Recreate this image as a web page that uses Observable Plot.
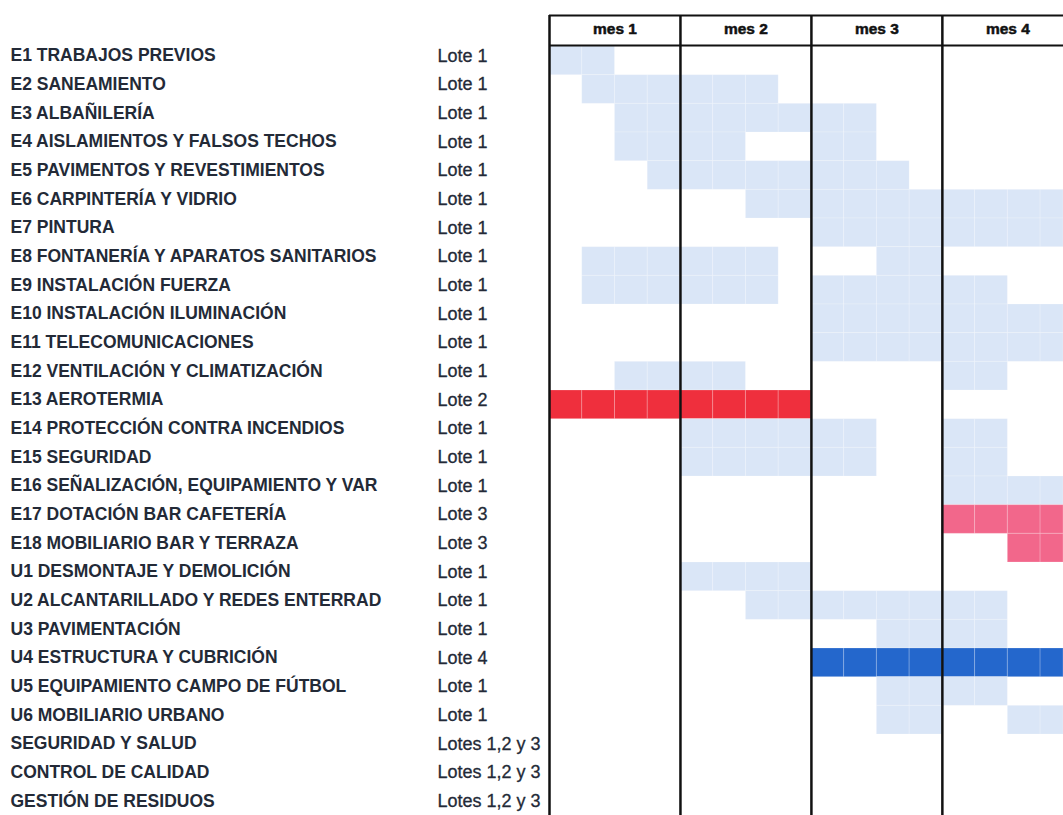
<!DOCTYPE html>
<html>
<head>
<meta charset="utf-8">
<script src="https://cdn.jsdelivr.net/npm/d3@7"></script>
<script src="https://cdn.jsdelivr.net/npm/@observablehq/plot@0.6"></script>
<style>
  body { margin: 0; background: #fff; overflow: hidden; }
</style>
</head>
<body>
<div id="chart"></div>
<script>
// ---- data ----
const tasks = [
  "E1 TRABAJOS PREVIOS",
  "E2 SANEAMIENTO",
  "E3 ALBAÑILERÍA",
  "E4 AISLAMIENTOS Y FALSOS TECHOS",
  "E5 PAVIMENTOS Y REVESTIMIENTOS",
  "E6 CARPINTERÍA Y VIDRIO",
  "E7 PINTURA",
  "E8 FONTANERÍA Y APARATOS SANITARIOS",
  "E9 INSTALACIÓN FUERZA",
  "E10 INSTALACIÓN ILUMINACIÓN",
  "E11 TELECOMUNICACIONES",
  "E12 VENTILACIÓN Y CLIMATIZACIÓN",
  "E13 AEROTERMIA",
  "E14 PROTECCIÓN CONTRA INCENDIOS",
  "E15 SEGURIDAD",
  "E16 SEÑALIZACIÓN, EQUIPAMIENTO Y VAR",
  "E17 DOTACIÓN BAR CAFETERÍA",
  "E18 MOBILIARIO BAR Y TERRAZA",
  "U1 DESMONTAJE Y DEMOLICIÓN",
  "U2 ALCANTARILLADO Y REDES ENTERRAD",
  "U3 PAVIMENTACIÓN",
  "U4 ESTRUCTURA Y CUBRICIÓN",
  "U5 EQUIPAMIENTO CAMPO DE FÚTBOL",
  "U6 MOBILIARIO URBANO",
  "SEGURIDAD Y SALUD",
  "CONTROL DE CALIDAD",
  "GESTIÓN DE RESIDUOS"
];
const lotes = [
  "Lote 1","Lote 1","Lote 1","Lote 1","Lote 1","Lote 1","Lote 1","Lote 1","Lote 1",
  "Lote 1","Lote 1","Lote 1","Lote 2","Lote 1","Lote 1","Lote 1","Lote 3","Lote 3",
  "Lote 1","Lote 1","Lote 1","Lote 4","Lote 1","Lote 1",
  "Lotes 1,2 y 3","Lotes 1,2 y 3","Lotes 1,2 y 3"
];
const months = ["mes 1", "mes 2", "mes 3", "mes 4"];
const monthStartWeek = [0, 4, 8, 12];
const weeksPerMonth = 4;
// [task, start week, end week]
const bars = [
  ["E1 TRABAJOS PREVIOS", 0, 2],
  ["E2 SANEAMIENTO", 1, 7],
  ["E3 ALBAÑILERÍA", 2, 10],
  ["E4 AISLAMIENTOS Y FALSOS TECHOS", 2, 6],
  ["E4 AISLAMIENTOS Y FALSOS TECHOS", 8, 10],
  ["E5 PAVIMENTOS Y REVESTIMIENTOS", 3, 11],
  ["E6 CARPINTERÍA Y VIDRIO", 6, 16],
  ["E7 PINTURA", 8, 16],
  ["E8 FONTANERÍA Y APARATOS SANITARIOS", 1, 7],
  ["E8 FONTANERÍA Y APARATOS SANITARIOS", 10, 12],
  ["E9 INSTALACIÓN FUERZA", 1, 7],
  ["E9 INSTALACIÓN FUERZA", 8, 14],
  ["E10 INSTALACIÓN ILUMINACIÓN", 8, 16],
  ["E11 TELECOMUNICACIONES", 8, 16],
  ["E12 VENTILACIÓN Y CLIMATIZACIÓN", 2, 6],
  ["E12 VENTILACIÓN Y CLIMATIZACIÓN", 12, 14],
  ["E13 AEROTERMIA", 0, 8],
  ["E14 PROTECCIÓN CONTRA INCENDIOS", 4, 10],
  ["E14 PROTECCIÓN CONTRA INCENDIOS", 12, 14],
  ["E15 SEGURIDAD", 4, 10],
  ["E15 SEGURIDAD", 12, 14],
  ["E16 SEÑALIZACIÓN, EQUIPAMIENTO Y VAR", 12, 16],
  ["E17 DOTACIÓN BAR CAFETERÍA", 12, 16],
  ["E18 MOBILIARIO BAR Y TERRAZA", 14, 16],
  ["U1 DESMONTAJE Y DEMOLICIÓN", 4, 8],
  ["U2 ALCANTARILLADO Y REDES ENTERRAD", 6, 14],
  ["U3 PAVIMENTACIÓN", 10, 14],
  ["U4 ESTRUCTURA Y CUBRICIÓN", 8, 16],
  ["U5 EQUIPAMIENTO CAMPO DE FÚTBOL", 10, 14],
  ["U6 MOBILIARIO URBANO", 10, 12],
  ["U6 MOBILIARIO URBANO", 14, 16]
];
const loteNames = ["Lote 1", "Lote 2", "Lote 3", "Lote 4", "Lotes 1,2 y 3"];

// ---- derived tables ----
const loteOf = new Map(tasks.map((t, i) => [t, lotes[i]]));
const cells = bars.flatMap(([task, s, e]) =>
  d3.range(s, e).map(w => ({task, w0: w, w1: w + 1, lote: loteOf.get(task)}))
);
const rows = tasks.map((t, i) => ({task: t, lote: lotes[i]}));

const yTop = 46, yBottom = 820;
const bw = (yBottom - yTop) / tasks.length;

const chart = Plot.plot({
  width: 1063,
  height: 815,
  marginLeft: 549,
  marginRight: 0,
  marginTop: 15,
  marginBottom: 0,
  style: {fontFamily: "'Liberation Sans', Arial, sans-serif", background: "#fff"},
  x: {domain: [0, 15.7], clamp: true, axis: null},
  y: {domain: tasks, range: [yTop, yBottom], padding: 0, round: false, axis: null},
  color: {domain: loteNames, range: ["#dae6f7", "#ef2f3d", "#f2678b", "#2467cc", "#dae6f7"]},
  marks: [
    Plot.barX(cells, {
      x1: "w0", x2: "w1", y: "task", fill: "lote",
      stroke: "#ffffff", strokeOpacity: 0.2, strokeWidth: 1
    }),
    Plot.ruleX(monthStartWeek, {stroke: "#111", strokeWidth: 2.5}),
    Plot.ruleY([tasks[0]], {y: d => d, dy: -bw / 2 - 1, stroke: "#111", strokeWidth: 2}),
    Plot.ruleY([tasks[0]], {y: d => d, dy: -bw / 2 - 31, stroke: "#111", strokeWidth: 2}),
    Plot.text(months, {
      x: (d, i) => monthStartWeek[i] + weeksPerMonth / 2,
      text: d => d, frameAnchor: "top", dy: 14, lineAnchor: "middle",
      fontSize: 15.5, fontWeight: "bold", fill: "#111", stroke: "#111", strokeWidth: 0.5
    }),
    Plot.text(rows, {
      y: "task", text: "task", frameAnchor: "left", dx: -539, dy: -5,
      textAnchor: "start", fontSize: 17.5, fontWeight: "bold", fill: "#232a37"
    }),
    Plot.text(rows, {
      y: "task", text: "lote", frameAnchor: "left", dx: -112, dy: -5,
      textAnchor: "start", fontSize: 18, fill: "#232a37", stroke: "#232a37", strokeWidth: 0.3
    })
  ]
});
document.getElementById("chart").appendChild(chart);
</script>
</body>
</html>
